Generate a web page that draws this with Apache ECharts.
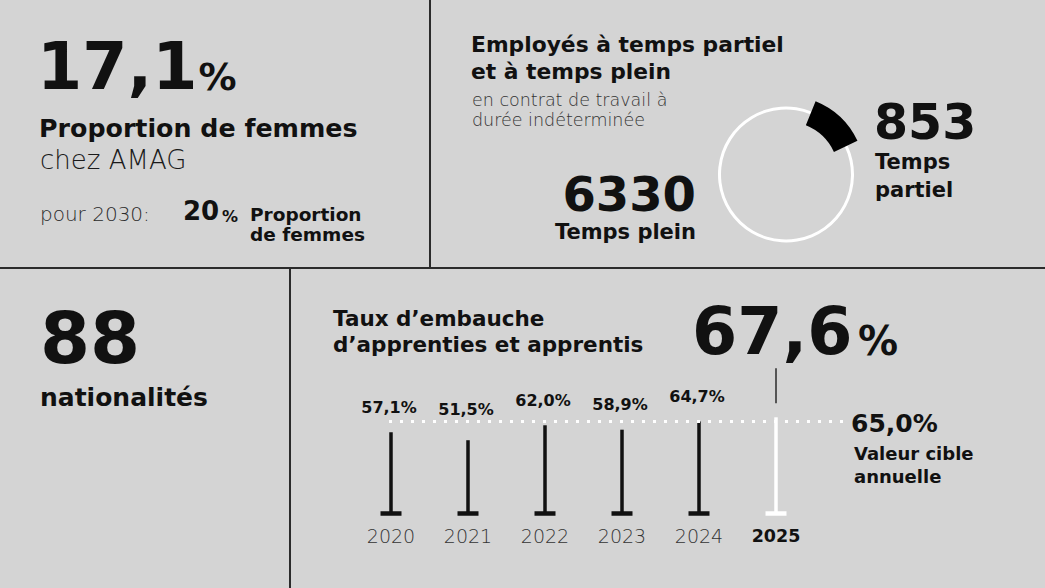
<!DOCTYPE html>
<html><head><meta charset="utf-8">
<script src="https://cdn.jsdelivr.net/npm/echarts@6/dist/echarts.min.js"></script>
<style>html,body{margin:0;padding:0;background:#d4d4d4;}#c{width:1045px;height:588px;}</style>
</head><body><div id="c"></div>
<script>
// ---- data ----
const years = ['2020', '2021', '2022', '2023', '2024', '2025'];
const hireRate = [57.1, 51.5, 62.0, 58.9, 64.7, 67.6];
const hireTarget = 65.0;
const contractTypes = ['Temps partiel', 'Temps plein'];
const contractCounts = [853, 6330];
const womenShare = 17.1;
const womenTarget2030 = 20;
const nationalities = 88;

const FONT = 'DejaVu Sans';
const fmt = v => v.toFixed(1).replace('.', ',');

function T(text, x, y, size, weight, color, align) {
  return {
    type: 'text', x: x, y: y, silent: true,
    style: {
      text: text, fontSize: size, fontWeight: weight || 'bold', fontFamily: FONT,
      fill: color || '#111', align: align || 'left', verticalAlign: 'middle'
    }
  };
}
function L(x1, y1, x2, y2) {
  return { type: 'line', silent: true, shape: { x1, y1, x2, y2 }, style: { stroke: '#2b2b2b', lineWidth: 2 } };
}

const partWords = contractTypes[0].split(' ');

const graphics = [
  L(430, 0, 430, 268), L(0, 268, 1045, 268), L(290, 268, 290, 588),
  // panel 1
  T(fmt(womenShare), 37, 66, 65),
  T('%', 198.5, 77, 38),
  T('Proportion de femmes', 39, 128, 25.3),
  T('chez AMAG', 40, 160, 26, 300, '#1a1a1a'),
  T('pour 2030:', 40, 214, 20, 300, '#2a2a2a'),
  T(String(womenTarget2030), 183, 211, 26),
  T('%', 222, 216, 16),
  T('Proportion', 250, 214, 18.5),
  T('de femmes', 250, 234, 18.5),
  // panel 2
  T('Employés à temps partiel', 471, 44, 21.8),
  T('et à temps plein', 471, 71, 21.8),
  T('en contrat de travail à', 472, 100, 17.5, 300, '#333'),
  T('durée indéterminée', 472, 120, 17.5, 300, '#333'),
  T(String(contractCounts[0]), 874, 122.5, 49),
  T(partWords[0], 875, 162, 21),
  T(partWords[1], 875, 190, 21),
  T(String(contractCounts[1]), 696, 194, 48, 'bold', '#111', 'right'),
  T(contractTypes[1], 696, 232, 21, 'bold', '#111', 'right'),
  // panel 3
  T(String(nationalities), 40, 337.5, 72),
  T('nationalités', 40, 397, 25),
  // panel 4
  T('Taux d\u2019embauche', 333, 318, 21.5),
  T('d\u2019apprenties et apprentis', 333, 344, 21.5),
  T(fmt(hireRate[hireRate.length - 1]), 692, 331, 65),
  T('%', 858, 341, 40),
  T(fmt(hireTarget) + '%', 851, 423, 25),
  T('Valeur cible', 854, 453, 18),
  T('annuelle', 854, 476, 18)
];

const chart = echarts.init(document.getElementById('c'), null, { renderer: 'svg' });
chart.setOption({
  backgroundColor: '#d4d4d4',
  animation: false,
  grid: { left: 352.5, width: 462, top: 371.2, height: 142.3 },
  xAxis: {
    type: 'category', data: years,
    axisLine: { show: false }, axisTick: { show: false }, splitLine: { show: false },
    axisLabel: {
      interval: 0, margin: 12,
      formatter: (v, i) => i === years.length - 1 ? '{b|' + v + '}' : '{a|' + v + '}',
      rich: {
        a: { fontFamily: FONT, fontSize: 19, fontWeight: 300, color: '#333', lineHeight: 20 },
        b: { fontFamily: FONT, fontSize: 17.5, fontWeight: 'bold', color: '#111', lineHeight: 20 }
      }
    }
  },
  yAxis: { type: 'value', min: 0, max: 100, show: false, splitLine: { show: false } },
  graphic: graphics,
  series: [
    {
      type: 'pie', center: [786, 174.5], radius: [65, 68], startAngle: 68, silent: true,
      label: { show: false }, labelLine: { show: false }, emphasis: { disabled: true },
      itemStyle: { borderWidth: 0 },
      data: contractTypes.map((n, i) => ({ name: n, value: contractCounts[i], itemStyle: { color: '#ffffff' } }))
    },
    {
      type: 'pie', center: [786, 174.5], radius: [53, 79], startAngle: 68, silent: true,
      label: { show: false }, labelLine: { show: false }, emphasis: { disabled: true },
      itemStyle: { borderWidth: 0 },
      data: contractTypes.map((n, i) => ({ name: n, value: contractCounts[i], itemStyle: { color: i === 0 ? '#000000' : 'rgba(0,0,0,0)' } }))
    },
    {
      type: 'custom', silent: true,
      data: hireRate.map((v, i) => [i, v]),
      encode: { x: 0, y: 1 },
      renderItem: (params, api) => {
        const i = api.value(0), v = api.value(1);
        const top = api.coord([i, v]);
        const base = api.coord([i, 0]);
        const targetY = api.coord([i, hireTarget])[1];
        const last = i === hireRate.length - 1;
        const col = last ? '#ffffff' : '#111111';
        const children = [
          { type: 'rect', shape: { x: base[0] - 1.75, y: top[1], width: 3.5, height: base[1] - top[1] }, style: { fill: col } },
          { type: 'rect', shape: { x: base[0] - 10.5, y: base[1] - 2.25, width: 21, height: 4.5 }, style: { fill: col } }
        ];
        if (last) {
          children.push({ type: 'line', shape: { x1: base[0], y1: top[1] - 14, x2: base[0], y2: top[1] - 49 }, style: { stroke: '#555', lineWidth: 2 } });
        } else {
          const ly = Math.min(top[1] - 25, targetY - 12);
          children.push({ type: 'text', x: base[0] - 2, y: ly, style: { text: fmt(v) + '%', fontSize: 16, fontWeight: 'bold', fontFamily: FONT, fill: '#111', align: 'center', verticalAlign: 'middle' } });
        }
        return { type: 'group', children: children };
      },
      markLine: {
        silent: true, symbol: 'none', label: { show: false },
        lineStyle: { color: '#ffffff', width: 3, type: [3, 8] },
        data: [[{ x: 389, yAxis: hireTarget }, { x: 845, yAxis: hireTarget }]]
      }
    }
  ]
});
</script></body></html>
